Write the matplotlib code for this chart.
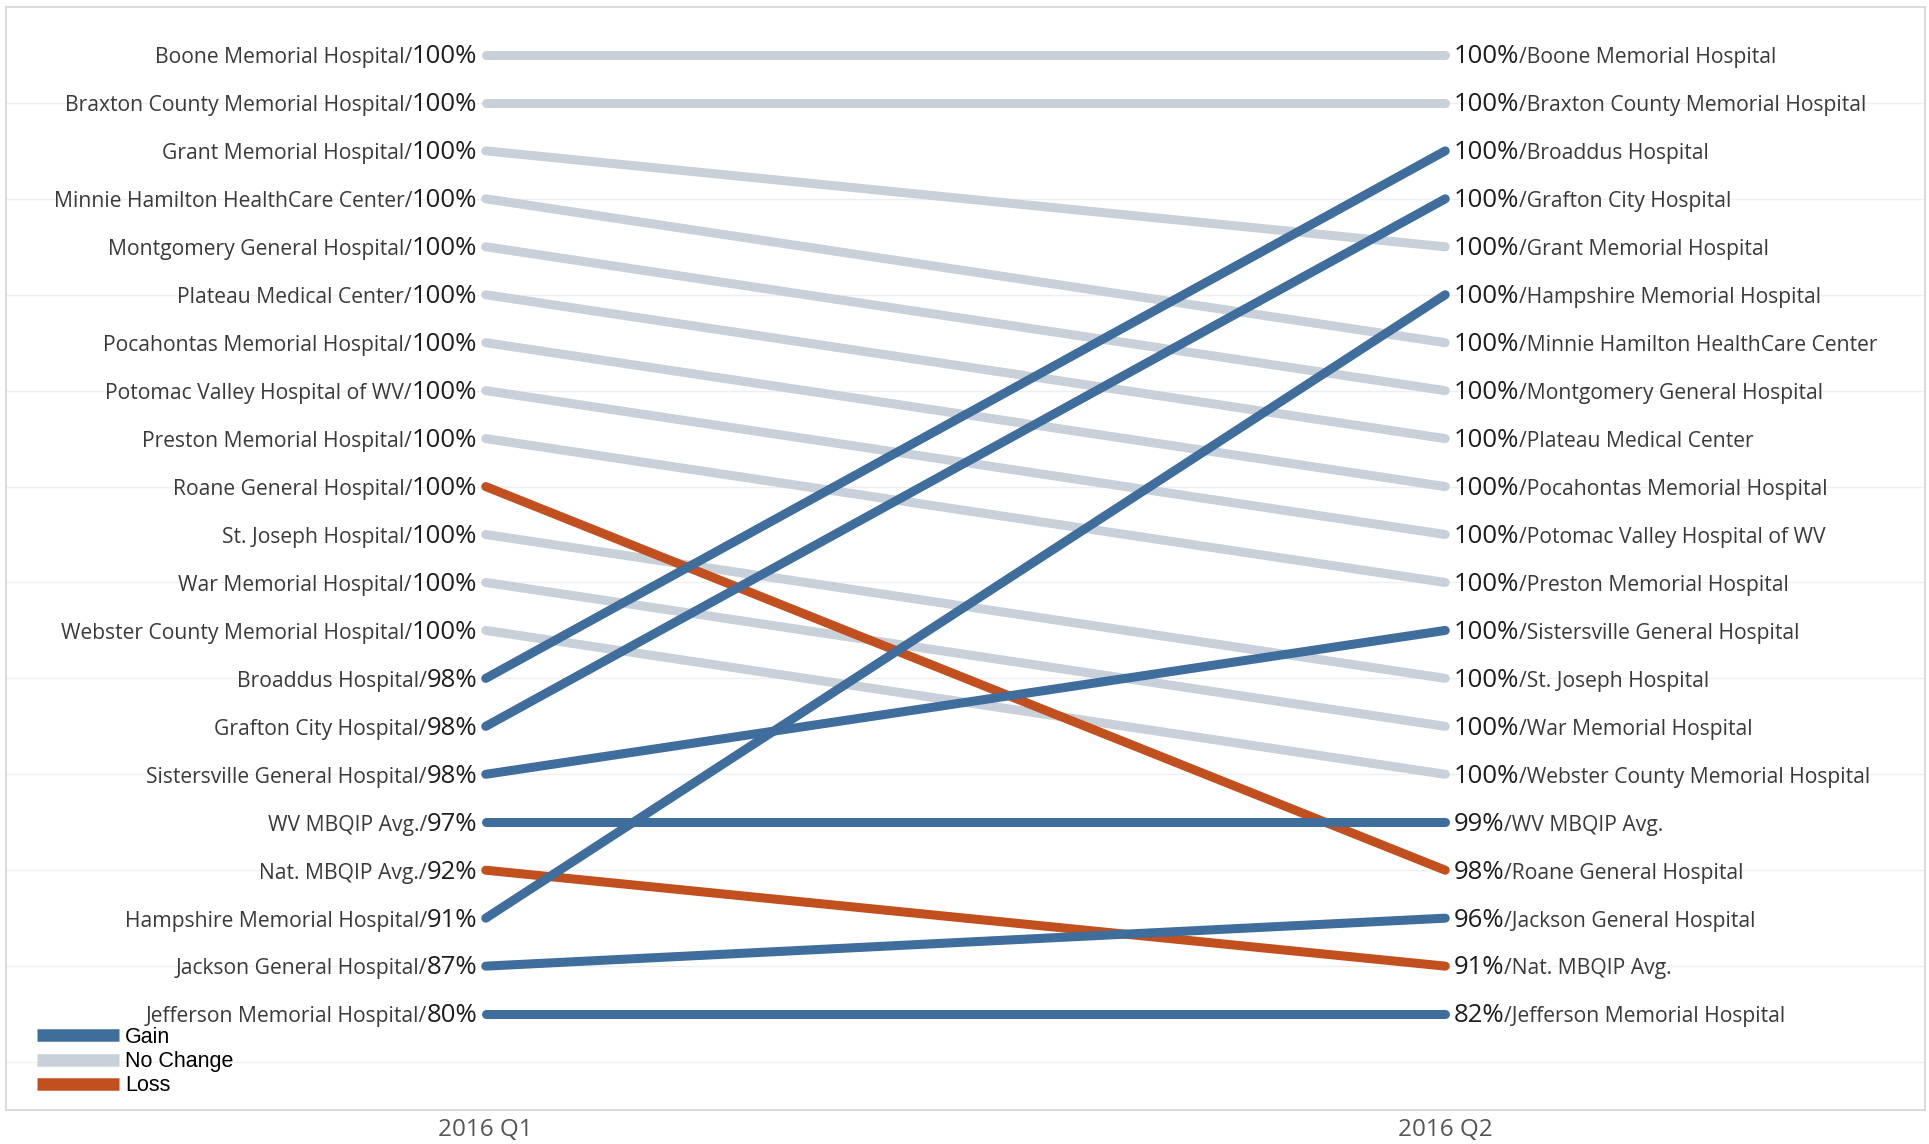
import pandas as pd
import matplotlib.pyplot as plt
from matplotlib.lines import Line2D

hospitals = [
    'Boone Memorial Hospital', 'Braxton County Memorial Hospital', 'Grant Memorial Hospital',
    'Minnie Hamilton HealthCare Center', 'Montgomery General Hospital', 'Plateau Medical Center',
    'Pocahontas Memorial Hospital', 'Potomac Valley Hospital of WV', 'Preston Memorial Hospital',
    'Roane General Hospital', 'St. Joseph Hospital', 'War Memorial Hospital',
    'Webster County Memorial Hospital', 'Broaddus Hospital', 'Grafton City Hospital',
    'Sistersville General Hospital', 'WV MBQIP Avg.', 'Nat. MBQIP Avg.',
    'Hampshire Memorial Hospital', 'Jackson General Hospital', 'Jefferson Memorial Hospital',
]
q1 = [100, 100, 100, 100, 100, 100, 100, 100, 100, 100, 100, 100, 100, 98, 98, 98, 97, 92, 91, 87, 80]
q2 = [100, 100, 100, 100, 100, 100, 100, 100, 100, 98, 100, 100, 100, 100, 100, 100, 99, 91, 100, 96, 82]
change = ['No Change'] * 9 + ['Loss'] + ['No Change'] * 3 + ['Gain'] * 4 + ['Loss'] + ['Gain'] * 3
periods = ['2016 Q1', '2016 Q2']

colors = {'Gain': '#3f6d9c', 'No Change': '#c8d0da', 'Loss': '#c24f1e'}

df = pd.DataFrame({'name': hospitals, 'q1': q1, 'q2': q2, 'change': change})
# rank each quarter: value desc, then name
df['r1'] = df.sort_values(['q1', 'name'], ascending=[False, True]).reset_index().reset_index().set_index('index')['level_0'] + 1
df['r2'] = df.sort_values(['q2', 'name'], ascending=[False, True]).reset_index().reset_index().set_index('index')['level_0'] + 1

fig = plt.figure(figsize=(19.29, 11.44), dpi=100)
ax = fig.add_axes([6 / 1929, 1 - 1110 / 1144, 1919 / 1929, 1103 / 1144])

for y in range(2, 23, 2):
    ax.axhline(y, color='#efefef', lw=1, zorder=0)

for _, row in df.iterrows():
    ax.plot([0, 1], [row['r1'], row['r2']], color=colors[row['change']], lw=6.5,
            solid_capstyle='round', zorder=2 if row['change'] == 'No Change' else 3)

ax.set_xlim(-0.5, 1.5)
ax.set_ylim(23, 0)
ax.set_xticks([0, 1])
ax.set_xticklabels(periods, fontsize=17.5, color='#555555', family='Open Sans')
ax.tick_params(axis='x', length=0, pad=6)
ax.set_yticks([])
for s in ax.spines.values():
    s.set_color('#d4d4d4')
    s.set_linewidth(1.2)

name_font = dict(family='Open Sans', fontsize=15.2, color='#3a3a3a')
pct_font = dict(family='Open Sans', fontsize=18.5, color='#1e1e1e')
gap = 6
renderer = fig.canvas.get_renderer()

for _, row in df.iterrows():
    # left side
    t = ax.annotate(f"{row['q1']}%", (0, row['r1']), xytext=(-gap, -6), textcoords='offset points',
                    ha='right', va='baseline', **pct_font)
    w = t.get_window_extent(renderer).width * 72 / fig.dpi
    ax.annotate(f"{row['name']}/", (0, row['r1']), xytext=(-gap - w, -6), textcoords='offset points',
                ha='right', va='baseline', **name_font)
    # right side
    t = ax.annotate(f"{row['q2']}%", (1, row['r2']), xytext=(gap, -6), textcoords='offset points',
                    ha='left', va='baseline', **pct_font)
    w = t.get_window_extent(renderer).width * 72 / fig.dpi
    ax.annotate(f"/{row['name']}", (1, row['r2']), xytext=(gap + w, -6), textcoords='offset points',
                ha='left', va='baseline', **name_font)

handles = [Line2D([], [], color=colors[k], lw=9, solid_capstyle='butt') for k in ['Gain', 'No Change', 'Loss']]
ax.legend(handles, ['Gain', 'No Change', 'Loss'], loc='upper left', bbox_to_anchor=(31 / 1919, 1 - 1020 / 1103),
          frameon=False, prop={'family': 'Liberation Sans', 'size': 15.5}, handlelength=3.8,
          handletextpad=0.3, labelspacing=0.15, borderpad=0, borderaxespad=0)

fig.savefig('out.png', dpi=100)
